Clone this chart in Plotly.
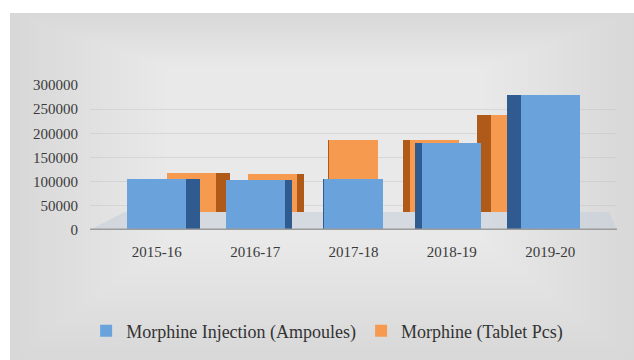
import plotly.graph_objects as go

# ---- data ----
years = ["2015-16", "2016-17", "2017-18", "2018-19", "2019-20"]
injection_ampoules = [105000, 103000, 105000, 180000, 280000]
tablet_pcs = [80000, 78000, 150000, 150000, 200000]
y_tick_values = [0, 50000, 100000, 150000, 200000, 250000, 300000]
series_names = ["Morphine Injection (Ampoules)", "Morphine (Tablet Pcs)"]

# ---- pseudo-3D styling ----
W, H = 634, 360
n = len(years)
mid = (n - 1) / 2
DEPTH_LIFT = 37000     # back row sits higher on the floor
FRONT_W = 0.6          # face width of the front row
BACK_W = 0.5           # face width of the back row
SHIFT = 0.175          # sideways perspective shift of back row per step
SIDE = 0.07            # side-face width per step from the centre

BLUE, BLUE_SIDE = "#6aa2dc", "#2f5b91"
ORANGE, ORANGE_SIDE = "#f59a4e", "#b05a1a"
FONT = "Liberation Serif"


def faces(face_w, shift):
    """Return (face offsets, side offsets, side widths) for each category."""
    f_off, s_off, s_w = [], [], []
    for i in range(n):
        d = mid - i
        c = shift * d
        f_off.append(c - face_w / 2)
        w = max(SIDE * abs(d), 0.001)
        s_w.append(w)
        if d > 0:
            s_off.append(c + face_w / 2)
        else:
            s_off.append(c - face_w / 2 - w)
    return f_off, s_off, s_w


b_off, b_soff, b_sw = faces(FRONT_W, 0.0)
o_off, o_soff, o_sw = faces(BACK_W, SHIFT)

fig = go.Figure()

# back row: tablets
fig.add_trace(go.Bar(x=years, y=tablet_pcs, base=DEPTH_LIFT, offset=o_soff,
                     width=o_sw, marker=dict(color=ORANGE_SIDE, line_width=0),
                     showlegend=False, hoverinfo="skip"))
fig.add_trace(go.Bar(x=years, y=tablet_pcs, base=DEPTH_LIFT, offset=o_off,
                     width=[BACK_W] * n, name=series_names[1], legendrank=2,
                     marker=dict(color=ORANGE, line_width=0)))
# front row: injections
fig.add_trace(go.Bar(x=years, y=injection_ampoules, offset=b_soff, width=b_sw,
                     marker=dict(color=BLUE_SIDE, line_width=0),
                     showlegend=False, hoverinfo="skip"))
fig.add_trace(go.Bar(x=years, y=injection_ampoules, offset=b_off,
                     width=[FRONT_W] * n, name=series_names[0], legendrank=1,
                     marker=dict(color=BLUE, line_width=0)))

# ---- background panel with soft light centre ----
shapes = []
fx0, fy1 = 10 / W, 1 - 13 / H
shapes.append(dict(type="rect", xref="paper", yref="paper", x0=fx0, x1=1,
                   y0=0, y1=fy1, fillcolor="#d8d8d8", line_width=0,
                   layer="below"))
cx, cy = 0.52, 0.66
steps = 32
for k in range(1, steps + 1):
    t = k / (steps + 3)
    shapes.append(dict(type="rect", xref="paper", yref="paper",
                       x0=fx0 + (cx - fx0) * t, x1=1 - (1 - cx) * t,
                       y0=0 + cy * t, y1=fy1 - (fy1 - cy) * t,
                       fillcolor="white", opacity=0.042, line_width=0,
                       layer="below"))

x_lo, x_hi = -0.68, 4.68
# floor
shapes.append(dict(type="path", xref="x", yref="y",
                   path=f"M {x_lo},0 L {x_hi},0 L {x_hi - 0.08},{DEPTH_LIFT} "
                        f"L {x_lo + 0.35},{DEPTH_LIFT} Z",
                   fillcolor="rgba(196,206,218,0.55)", line_width=0,
                   layer="below"))
# floor front edge
shapes.append(dict(type="line", xref="x", yref="y", x0=x_lo, x1=x_hi,
                   y0=0, y1=0, line=dict(color="#9c9c9c", width=3),
                   layer="above"))

fig.update_layout(
    width=W, height=H,
    margin=dict(l=0, r=0, t=0, b=0, autoexpand=False),
    template="none",
    paper_bgcolor="white",
    plot_bgcolor="rgba(0,0,0,0)",
    barmode="overlay",
    bargap=0,
    shapes=shapes,
    font=dict(family=FONT, color="#3a3a3a"),
    xaxis=dict(domain=[90 / W, 617 / W], range=[x_lo, x_hi],
               showgrid=False, zeroline=False, showline=False,
               ticks="outside", ticklen=8, tickcolor="rgba(0,0,0,0)",
               tickfont=dict(family=FONT, size=15, color="#3a3a3a"),
               automargin=False),
    yaxis=dict(domain=[1 - 230 / H, 1 - 85 / H], range=[0, 300000],
               tickvals=y_tick_values,
               ticktext=[str(v) for v in y_tick_values],
               showgrid=True, gridcolor="rgba(185,185,185,0.35)",
               gridwidth=1, zeroline=False, showline=False,
               ticks="outside", ticklen=8, tickcolor="rgba(0,0,0,0)",
               tickfont=dict(family=FONT, size=15, color="#3a3a3a"),
               automargin=False),
    legend=dict(orientation="h", x=0.516, xanchor="center", y=1 - 331 / H,
                yanchor="middle", bgcolor="rgba(0,0,0,0)",
                font=dict(family=FONT, size=18, color="#333333"),
                traceorder="normal"),
    showlegend=True,
)

fig.write_html("out.html")
